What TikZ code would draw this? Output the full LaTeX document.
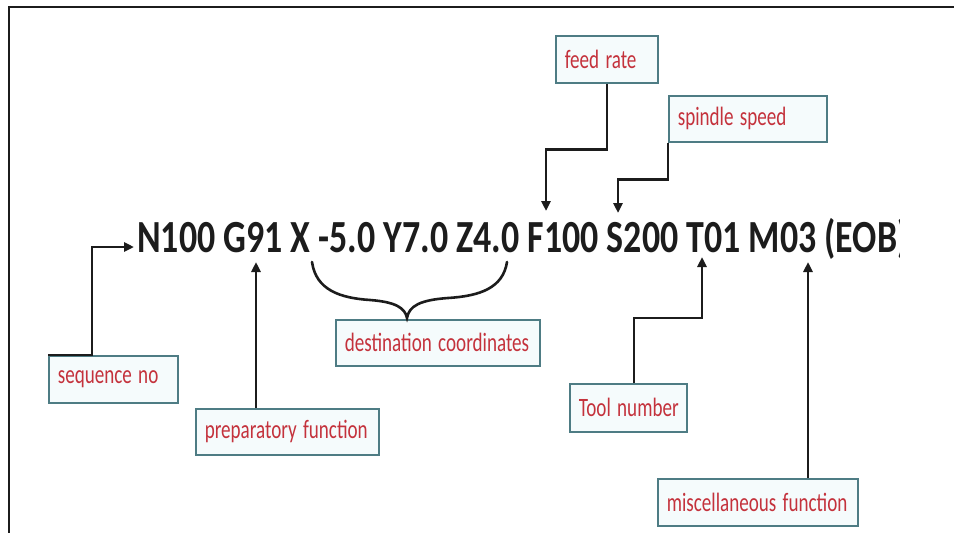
\documentclass[tikz,border=0pt]{standalone}
\usepackage{fontspec}
\setmainfont{Carlito}
\usetikzlibrary{arrows.meta}
\definecolor{lblred}{HTML}{C4323C}
\definecolor{boxedge}{HTML}{4E7C84}
\definecolor{boxfill}{HTML}{F5FBFC}
\definecolor{ink}{HTML}{1C1C1C}
\newcommand{\lbltxt}[1]{\scalebox{0.72}[1]{#1}}
\begin{document}
\begin{tikzpicture}[x=1pt,y=-1pt,
  lbl/.style={draw=boxedge, line width=1.6pt, fill=boxfill, text=lblred,
    font=\fontsize{26.5}{26.5}\selectfont, anchor=north west,
    inner xsep=9pt, inner ysep=0pt, align=left},
  conn/.style={draw=ink, line width=2.6pt, -{Triangle[length=10pt,width=9pt]}},
  plain/.style={draw=ink, line width=2.6pt},
  frame/.style={draw=ink, line width=2.4pt}]
\useasboundingbox (0,0) rectangle (954,533);
\fill[white] (0,0) rectangle (954,533);
\draw[frame] (9,533) -- (9,7) -- (954,7);

% main code line
\begin{scope}
\clip (0,0) rectangle (899,533);
\node[anchor=base west, inner sep=0pt, text=ink, font=\fontsize{46}{46}\selectfont\bfseries]
  (code) at (137,252) {\scalebox{0.78}[1]{N100 G91 X -5.0 Y7.0 Z4.0 F100 S200 T01 M03 (EOB)}};
\end{scope}

% labels
\node[lbl, minimum height=47pt, text width=84pt]  (feed) at (555,35)  {\lbltxt{feed rate}};
\node[lbl, minimum height=46pt, text width=140pt] (spin) at (668,95)  {\lbltxt{spindle speed}};
\node[lbl, minimum height=47pt, text width=111pt] (seq)  at (48,355)  {\lbltxt{sequence no}};
\node[lbl, minimum height=46pt, text width=165pt] (prep) at (195,408) {\lbltxt{preparatory function}};
\node[lbl, minimum height=46pt, text width=186pt] (dest) at (335,319) {\lbltxt{destination coordinates}};
\node[lbl, minimum height=48pt, text width=99pt]  (tool) at (569,383) {\lbltxt{Tool number}};
\node[lbl, minimum height=47pt, text width=182pt] (misc) at (657,478) {\lbltxt{miscellaneous function}};

% arrow tips
\coordinate (nTip) at (134,247);
\coordinate (gTip) at (256,262);
\coordinate (fTip) at (546,211);
\coordinate (sTip) at (618,213);
\coordinate (tTip) at (702,257);
\coordinate (mTip) at (808,262);

% connectors
\draw[conn] (feed.south) -- ++(0,66) -| (fTip);
\draw[conn] (spin.south west) -- ++(0,37) -| (sTip);
\draw[conn] (seq.north west) -- ++(44,0) |- (nTip);
\draw[conn] (prep.north -| gTip) -- (gTip);
\draw[conn] ([xshift=5.5pt]tool.north) -- ++(0,-65) -| (tTip);
\draw[conn] (misc.north -| mTip) -- (mTip);

% brace
\coordinate (bL) at (312,262);
\coordinate (bR) at (507,262);
\coordinate (bM) at (407,318);
\draw[plain, line cap=round] (bL) .. controls (316,290) and (340,298) .. (370,300)
  .. controls (396,302) and (405,308) .. (bM)
  .. controls (409,306) and (420,300) .. (448,298)
  .. controls (480,296) and (503,288) .. (bR);
\end{tikzpicture}
\end{document}
